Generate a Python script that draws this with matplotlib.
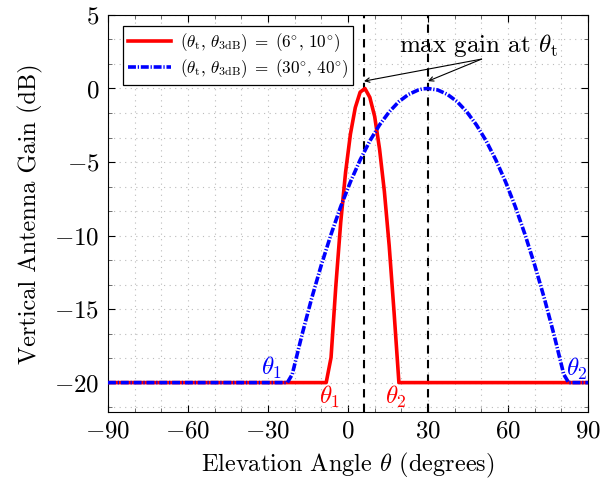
import matplotlib
matplotlib.use("Agg")
import matplotlib.pyplot as plt
from matplotlib.ticker import MultipleLocator

plt.rcParams['font.family'] = 'serif'
plt.rcParams['font.serif'] = ['cmr10']
plt.rcParams['mathtext.fontset'] = 'cm'
plt.rcParams['axes.formatter.use_mathtext'] = True
plt.rcParams['axes.unicode_minus'] = True

# Red: (theta_t, theta_3dB) = (6, 10)
red_x = [-90, -8.18, -6.36, -4.55, -2.73, -0.91, 0.91, 2.73, 4.55, 6.36, 8.18,
         10.0, 11.82, 13.64, 15.45, 17.27, 19.09, 90]
red_y = [-20, -20, -18.3, -13.4, -9.1, -5.7, -3.1, -1.3, -0.25, 0.0, -0.6,
         -1.9, -4.1, -7.0, -10.7, -15.2, -20, -20]

# Blue: (theta_t, theta_3dB) = (30, 40)
blue_x = [-90, -22.73, -20.91, -17.27, -13.64, -10.0, -6.36, -2.73, 0.91, 4.55,
          8.18, 11.82, 15.45, 19.09, 22.73, 26.36, 28.18, 30.0, 33.64, 37.27,
          40.91, 44.55, 48.18, 51.82, 55.45, 59.09, 62.73, 66.36, 70.0, 73.64,
          77.27, 80.91, 82.73, 90]
blue_y = [-20, -20, -19.44, -16.76, -14.28, -12.0, -9.92, -8.03, -6.35, -4.86,
          -3.57, -2.48, -1.59, -0.89, -0.40, -0.10, -0.02, 0.0, -0.10, -0.40,
          -0.89, -1.59, -2.48, -3.57, -4.86, -6.35, -8.03, -9.92, -12.0, -14.28,
          -16.76, -19.44, -20, -20]

theta_t = [6, 30]
x_ticks = [-90, -60, -30, 0, 30, 60, 90]
y_ticks = [5, 0, -5, -10, -15, -20]

fig = plt.figure(figsize=(6.15, 4.83), dpi=100)
ax = fig.add_axes([0.1756, 0.147, 0.7805, 0.822])

ax.plot(red_x, red_y, color='#ff0000', lw=2.6, solid_joinstyle='round',
        label=r'$(\theta_{\mathrm{t}},\, \theta_{\mathrm{3dB}})\;=\;(6^{\circ},\, 10^{\circ})$', zorder=3)
ax.plot(blue_x, blue_y, color='#0000ff', lw=2.6, linestyle=(0, (2.2, 0.5, 0.35, 0.5)),
        label=r'$(\theta_{\mathrm{t}},\, \theta_{\mathrm{3dB}})\;=\;(30^{\circ},\, 40^{\circ})$', zorder=4)

for t in theta_t:
    ax.axvline(t, color='black', lw=1.5, linestyle=(0, (4, 3)), zorder=2)

ax.set_xlim(-90, 90)
ax.set_ylim(-22, 5)
ax.set_xticks(x_ticks)
ax.set_yticks(y_ticks)
ax.xaxis.set_minor_locator(MultipleLocator(10))
ax.yaxis.set_minor_locator(MultipleLocator(5/3))
ax.tick_params(which='both', direction='in', top=True, right=True, labelsize=18)
ax.tick_params(which='major', length=5, width=0.8, pad=6)
ax.tick_params(which='minor', length=3, width=0.6, color='#555555')
ax.grid(True, which='both', linestyle=(0, (1, 4)), color='#bbbbbb', lw=0.8)
ax.set_axisbelow(True)

ax.set_xlabel(r'Elevation Angle $\theta$ (degrees)', fontsize=17.5, labelpad=6)
ax.set_ylabel('Vertical Antenna Gain (dB)', fontsize=17.5, labelpad=8)

leg = ax.legend(loc='upper left', bbox_to_anchor=(0.032, 0.973), fontsize=12.3,
                frameon=True, fancybox=False, edgecolor='black', framealpha=1,
                handlelength=2.5, borderpad=0.3, labelspacing=0.2, handletextpad=0.5,
                borderaxespad=0)
leg.get_frame().set_linewidth(0.9)

ax.text(48.75, 2.95, r'max gain at $\theta_{\mathrm{t}}$', fontsize=18,
        ha='center', va='center')
for t in theta_t:
    ax.annotate('', xy=(t, 0.5), xytext=(50.1, 2.0),
                arrowprops=dict(arrowstyle='->', color='black', lw=0.8,
                                shrinkA=0, shrinkB=0, mutation_scale=8))

ax.text(-28.5, -19.0, r'$\theta_1$', color='#0000ff', fontsize=18, ha='center', va='center')
ax.text(85.9, -19.05, r'$\theta_2$', color='#0000ff', fontsize=18, ha='center', va='center')
ax.text(-6.75, -20.95, r'$\theta_1$', color='#ff0000', fontsize=18, ha='center', va='center')
ax.text(18.0, -21.0, r'$\theta_2$', color='#ff0000', fontsize=18, ha='center', va='center')

fig.savefig('out.png', dpi=100)
